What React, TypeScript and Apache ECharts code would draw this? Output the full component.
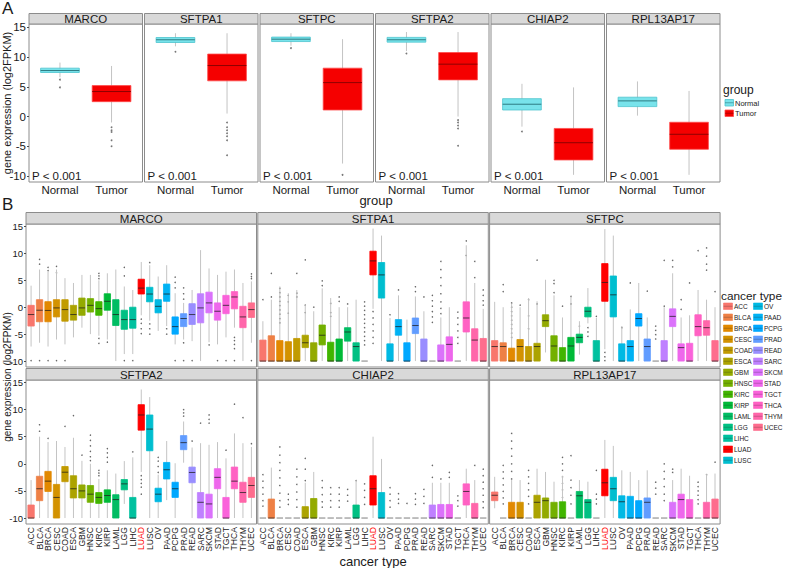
import React, { useEffect, useRef } from "react";
import * as echarts from "echarts";

const FONT = "Liberation Sans, Arial, Helvetica, sans-serif";

const GENES = ["MARCO", "SFTPA1", "SFTPC", "SFTPA2", "CHIAP2", "RPL13AP17"];
const GROUPS = ["Normal", "Tumor"];
const Y_TICKS = [-10, -5, 0, 5, 10, 15];
const CATS = ["ACC", "BLCA", "BRCA", "CESC", "COAD", "ESCA", "GBM", "HNSC", "KIRC", "KIRP", "LAML", "LGG", "LIHC", "LUAD", "LUSC", "OV", "PAAD", "PCPG", "PRAD", "READ", "SARC", "SKCM", "STAD", "TGCT", "THCA", "THYM", "UCEC"];

// Panel A: [lowWhisker, Q1, median, Q3, highWhisker] per gene
const A_NORMAL = [
  [6.6, 7.4, 7.73, 8.13, 9.07],
  [11.8, 12.44, 12.9, 13.28, 14.0],
  [11.9, 12.6, 13.0, 13.35, 14.0],
  [11.0, 12.5, 12.9, 13.3, 14.2],
  [-1.7, 1.1, 2.07, 3.0, 5.5],
  [0.15, 1.67, 2.63, 3.25, 5.9],
];
const A_TUMOR = [
  [-1.0, 2.5, 4.2, 5.2, 8.5],
  [0.5, 6.0, 8.57, 10.5, 14.0],
  [-7.9, 1.1, 5.7, 8.13, 13.0],
  [0.0, 6.16, 8.8, 10.76, 14.2],
  [-9.8, -7.3, -4.4, -2.0, 4.9],
  [-9.8, -5.5, -2.98, -0.96, 4.3],
];
const A_NORMAL_OUT = [[6.2, 4.9], [10.9], [11.5], [10.6], [-2.5], []];
const A_TUMOR_OUT = [[-1.8, -2.3, -2.6, -4.0, -5.0], [-1.0, -1.8, -2.3, -2.8, -3.3, -4.0, -6.5], [-9.8], [-0.6, -1.0, -1.5, -2.0, -4.9], [], []];

// Panel B: [low, Q1, median, Q3, high] per cancer type
const B_MARCO = [
  [-7.3, -3.5, -1.36, 0.35, 4.0], [-6.6, -2.7, -0.56, 1.4, 7.0], [-7.3, -2.7, -0.6, 1.03, 6.6], [-6.0, -1.8, -0.13, 1.4, 7.0],
  [-6.9, -2.6, -0.44, 1.4, 5.4], [-5.6, -2.4, -1.36, 0.35, 4.5], [-3.8, -1.5, -0.13, 1.7, 6.0], [-5.0, -0.9, 0.35, 1.6, 6.0],
  [-5.3, -1.5, -0.26, 1.03, 5.0], [-6.0, -0.56, 1.1, 2.5, 6.3], [-10, -3.4, -1.36, 1.4, 7.0], [-8.7, -4.1, -2.3, -0.56, 3.85],
  [-8.7, -3.9, -2.3, 0.0, 3.2], [-1.5, 2.45, 3.55, 5.2, 8.4], [-2.5, 1.0, 2.45, 3.7, 7.8], [-4.4, -1.05, 0.17, 1.4, 5.7],
  [-3.5, 1.1, 2.45, 4.3, 7.8], [-6.9, -5.0, -3.6, -1.8, 2.6], [-6.0, -3.6, -2.1, -1.2, 0.8], [-6.3, -3.2, -1.36, 0.66, 3.2],
  [-10, -2.9, -0.13, 2.5, 10.6], [-6.5, -1.05, 0.8, 2.8, 7.2], [-6.9, -2.4, -0.75, 0.8, 6.0], [-5.6, -1.2, 0.35, 2.2, 6.6],
  [-3.8, -0.3, 1.9, 2.9, 7.0], [-10, -3.8, -1.8, 0.17, 4.5], [-6.6, -1.9, -0.44, 0.8, 4.8],
];
const B_SFTPA1 = [
  [-10, -10, -10, -6.1, -2.6], [-10, -10, -10, -5.3, 1.4], [-10, -10, -10, -6.2, 3.85], [-10, -10, -10, -6.4, 2.6],
  [-10, -10, -10, -5.8, 3.2], [-10, -7.5, -6.6, -5.2, 0.5], [-10, -10, -10, -6.6, -0.75], [-10, -7.0, -5.2, -3.3, 3.5],
  [-10, -10, -10, -6.5, 1.7], [-10, -10, -10, -5.9, 0.0], [-10, -6.3, -4.6, -3.8, 0.0], [-10, -10, -7.3, -6.6, 1.4],
  [-10, -10, -10, -10, -10], [-0.3, 6.0, 8.6, 10.4, 14.6], [-10, 1.7, 6.0, 8.3, 13.3], [-10, -10, -10, -6.8, -2.0],
  [-10, -5.2, -3.6, -2.3, 2.2], [-10, -10, -10, -6.6, -2.3], [-10, -4.9, -3.4, -2.0, 2.0], [-10, -10, -10, -5.9, -0.75],
  [-10, -10, -10, -10, -10], [-10, -10, -10, -7.0, -1.9], [-10, -10, -6.9, -5.5, 0], [-10, -10, -10, -10, -10],
  [-10, -4.6, -2.0, 1.0, 11.5], [-10, -10, -6.1, -4.0, 4.5], [-10, -10, -10, -5.8, -0.3],
];
const B_SFTPC = [
  [-10, -10, -7.3, -6.2, 1.0], [-10, -10, -7.3, -6.6, 0], [-10, -10, -10, -7.6, 0.6], [-10, -10, -7.3, -6.0, 0],
  [-10, -10, -10, -7.3, 1.7], [-10, -10, -7.3, -6.7, 1.1], [-8.4, -3.6, -2.5, -1.4, 5.1], [-10, -10, -7.2, -5.3, 2.2],
  [-10, -10, -10, -7.5, -1.9], [-10, -10, -7.2, -5.6, 2.0], [-8.8, -6.6, -5.6, -5.0, -2.6], [-3.0, -1.8, -0.75, 0.0, 3.55],
  [-10, -10, -10, -6.2, -2.0], [-7.8, 1.1, 4.6, 8.1, 14.5], [-10, -1.8, 2.3, 5.8, 13.3], [-10, -10, -10, -6.8, -3.5],
  [-10, -10, -7.3, -6.2, -0.4], [-10, -3.5, -2.1, -1.2, 4.5], [-10, -10, -7.3, -5.9, -1.9], [-10, -10, -10, -10, -10],
  [-10, -10, -10, -6.2, 0], [-10, -3.6, -1.7, -0.3, 6.3], [-10, -10, -7.5, -6.8, -1.9], [-10, -10, -10, -6.7, -1.5],
  [-10, -5.3, -3.6, -1.4, 3.2], [-10, -5.2, -3.8, -2.5, 1.4], [-10, -10, -10, -6.2, 0],
];
const B_SFTPA2 = [
  [-10, -10, -10, -7.6, -3.0], [-10, -6.8, -4.6, -2.3, 5.0], [-10, -5.1, -3.2, -1.4, 4.0], [-10, -10, -6.2, -3.8, 4.2],
  [-10, -3.3, -1.55, -0.5, 3.1], [-10, -6.3, -4.6, -2.2, 4.8], [-10, -6.3, -5.0, -3.9, 0.55], [-10, -7.1, -5.6, -4.0, 0.0],
  [-10, -7.3, -6.2, -5.3, -2.8], [-10, -7.1, -5.85, -4.8, -1.2], [-10, -10, -6.6, -5.7, -1.8], [-7.4, -4.8, -3.7, -2.9, 0.5],
  [-10, -10, -10, -6.2, 1.2], [-1.5, 6.2, 9.0, 10.9, 13.7], [-10, 2.4, 6.4, 9.0, 12.3], [-10, -7.0, -5.6, -4.5, -2.0],
  [-6.7, -2.8, -1.1, 0.25, 4.2], [-10, -6.2, -4.6, -3.4, 0.1], [0.2, 2.6, 3.9, 5.2, 7.8], [-10, -3.5, -1.6, -0.6, 3.0],
  [-10, -10, -7.1, -5.3, 3.8], [-10, -10, -7.4, -5.6, 3.5], [-10, -4.6, -2.5, -0.9, 4.0], [-10, -10, -10, -6.2, 1.0],
  [-10, -4.6, -3.2, -0.6, 5.6], [-10, -7.1, -5.3, -3.4, 3.8], [-10, -6.2, -4.0, -2.5, 3.1],
];
const B_CHIAP2 = [
  [-10, -10, -10, -10, -10], [-10, -10, -10, -6.5, -0.7], [-10, -10, -10, -10, -10], [-10, -10, -10, -10, -10],
  [-10, -10, -10, -10, -10], [-10, -10, -10, -7.9, -3.5], [-10, -10, -10, -6.4, -1.5], [-10, -10, -10, -10, -10],
  [-10, -10, -10, -10, -10], [-10, -10, -10, -10, -10], [-10, -10, -10, -10, -10], [-10, -10, -10, -7.6, -3.0],
  [-10, -10, -10, -10, -10], [-10, -7.6, -4.6, -2.2, 5.0], [-10, -10, -10, -5.3, 0.9], [-10, -10, -10, -10, -10],
  [-10, -10, -10, -10, -10], [-10, -10, -10, -10, -10], [-10, -10, -10, -10, -10], [-10, -10, -10, -10, -10],
  [-10, -10, -10, -7.6, -3.5], [-10, -10, -10, -7.5, -3.5], [-10, -10, -10, -7.5, -3.5], [-10, -10, -10, -10, -10],
  [-10, -7.6, -5.1, -3.7, -0.9], [-10, -10, -10, -7.3, -3.0], [-10, -10, -10, -10, -10],
];
const B_RPL13AP17 = [
  [-8.2, -6.8, -5.8, -5.2, -2.4], [-10, -10, -10, -10, -10], [-10, -10, -10, -7.1, -3.0], [-10, -10, -10, -7.1, -3.0],
  [-10, -10, -10, -10, -10], [-10, -10, -7.1, -5.8, -0.9], [-10, -10, -6.8, -6.3, -1.5], [-10, -10, -10, -7.1, -3.3],
  [-10, -10, -10, -7.0, -2.2], [-10, -10, -10, -10, -10], [-10, -10, -5.9, -5.1, -3.0], [-10, -10, -7.1, -6.6, -3.3],
  [-10, -10, -10, -10, -10], [-10, -5.9, -3.5, -1.0, 4.4], [-10, -6.8, -4.6, -2.5, 3.3], [-10, -10, -7.0, -5.9, -1.2],
  [-10, -10, -10, -6.0, -1.5], [-10, -10, -10, -6.8, -3.0], [-10, -10, -7.1, -6.3, -1.2], [-10, -10, -10, -10, -10],
  [-10, -10, -10, -10, -10], [-10, -10, -10, -7.1, -3.0], [-10, -10, -6.6, -5.6, -0.9], [-10, -10, -10, -6.6, -2.2],
  [-10, -10, -10, -10, -10], [-10, -10, -10, -7.1, -1.9], [-10, -10, -10, -6.5, -1.8],
];
const B_DATA = [B_MARCO, B_SFTPA1, B_SFTPC, B_SFTPA2, B_CHIAP2, B_RPL13AP17];

// Panel B outliers: [cancer type number (1-based), value]
const B_OUT_MARCO = [
  [1, -9.9], [2, -9.9], [3, -9.9], [4, -9.9], [5, -9.9], [12, -9.9], [13, -9.9], [18, -9.9], [19, -9.9], [20, -9.9], [23, -9.9], [24, -9.9], [25, -9.9], [27, -9.9],
  [2, 8.9], [2, 8.0], [3, 7.4], [3, 6.8], [4, 7.6], [4, 6.4], [9, 6.3], [9, 5.8], [9, 5.3], [9, -5.8], [9, -6.7], [10, -6.5],
  [12, 7.4], [12, 5.8], [14, -2.2], [14, -3.0], [14, -4.0], [14, -4.9], [15, 8.3], [15, -3.1], [15, -4.0], [15, -5.0],
  [17, -4.0], [17, -5.0], [18, 5.6], [18, 4.6], [18, 3.6], [19, 3.6], [19, 2.5], [19, 1.5], [19, -6.6], [22, -7.0],
  [25, -5.6], [25, -6.2], [25, -6.9], [25, -7.7], [27, 6.2], [27, 5.7], [27, 5.3],
];
const B_OUT_SFTPA1 = [
  [1, 1.4], [2, 6.3], [2, 1.9], [3, 3.5], [3, 2.7], [3, 1.9], [3, 1.1], [3, 0.3], [3, -0.5], [3, -1.3], [3, -2.1], [3, -2.9],
  [4, 2.2], [4, 1.0], [4, -1.1], [5, 6.3], [5, 2.6], [5, 1.9], [6, 8.8], [6, 0.4], [6, -1.0], [7, 0.0], [8, 4.9], [8, 4.0],
  [9, 0.7], [9, -1.0], [9, -1.7], [10, 1.9], [10, 1.1], [11, 0.6],
  [13, 1.0], [13, 0.2], [13, -0.6], [13, -1.4], [13, -2.2], [13, -3.0], [13, -3.8], [13, -4.6], [13, -5.4], [13, -6.2], [13, -7.0],
  [14, -0.8], [14, -2.0], [14, -3.2], [14, -4.4], [14, -5.6], [14, -6.7], [16, -1.4], [17, 3.2], [19, 3.8], [19, 2.9], [20, 1.9],
  [21, 2.2], [21, 1.2], [21, 0.2], [21, -0.8], [21, -1.8], [21, -2.8],
  [22, 8.5], [22, 7.0], [22, 5.5], [22, 4.0], [22, 2.5], [22, 1.0], [22, -0.2], [22, -1.2],
  [24, -0.9], [24, -2.0], [24, -3.2], [24, -4.4], [24, -5.6], [24, -6.7],
  [25, 12.3], [25, 9.6], [26, 8.5], [26, 5.5], [27, 3.2], [27, 2.2], [27, 1.2], [27, 0.4],
];
const B_OUT_SFTPC = [
  [2, 4.2], [2, 2.9], [3, 0.8], [3, 0.0], [3, -0.8], [3, -1.6], [3, -2.4], [3, -3.2], [3, -4.0], [3, -4.8], [3, -5.6],
  [4, 0.4], [5, 1.4], [5, -1.6], [5, -4.0], [6, 8.75], [6, 0.6], [8, 5.0], [8, 4.4], [8, 2.7], [9, 0.2], [10, 2.0], [10, 0.6],
  [11, -3.5], [12, -3.8], [12, -4.6], [12, -5.4], [13, -1.7], [14, -8.4], [14, -9.2], [14, -9.9], [16, -3.8], [17, 4.5], [19, 3.0],
  [20, -3.5], [20, -4.3], [20, -5.1], [20, -5.9], [21, 0.2], [21, 8.7], [22, 8.7], [22, 7.5], [23, 1.4], [23, -0.4], [24, 4.5],
  [25, 10.5], [26, 11.0], [26, 9.5], [26, 8.0], [26, 6.9], [27, 2.9],
];
const B_OUT_SFTPA2 = [
  [2, 7.2], [2, 6.0], [3, 4.7], [5, 6.9], [6, 8.9], [7, 1.6], [8, 5.3], [8, 4.3], [8, 3.3], [8, 2.3], [8, 1.3], [8, 0.6],
  [9, -1.2], [9, -1.7], [9, -2.2], [10, 2.8], [10, 2.0], [10, 1.2], [10, 0.3], [13, 2.2], [14, -2.2], [14, -2.9], [14, -3.6],
  [14, -4.3], [14, -5.6], [16, 1.2], [16, 0.5], [16, -0.5], [16, -1.6], [19, 10.0], [19, 9.4], [19, 8.8], [20, 4.2], [21, 7.5],
  [22, 9.0], [22, 8.2], [22, 7.5], [24, 2.5], [25, 11.0], [26, 8.5], [27, 3.7],
];
const B_OUT_CHIAP2 = [
  [1, -2.0], [1, -3.2], [1, -4.4], [1, -5.6], [1, -6.8], [1, -7.8],
  [3, 3.1], [3, 1.6], [3, 0.2], [3, -1.2], [3, -2.6], [3, -4.0], [3, -5.4], [3, -6.8], [3, -8.0],
  [4, -5.6], [4, -6.6], [4, -7.5], [5, -1.0], [5, -2.4], [5, -3.8], [5, -5.2], [5, -6.6], [5, -8.0], [6, 1.0], [6, -1.0], [6, -3.1],
  [8, -3.1], [8, -4.4], [8, -5.7], [8, -7.0], [8, -8.0], [9, -4.4], [9, -5.6], [9, -6.8], [9, -8.0],
  [10, -4.4], [10, -5.6], [10, -6.8], [10, -8.0], [11, -4.7], [11, -5.8], [11, -6.9], [12, -3.1],
  [13, -3.7], [13, -4.9], [13, -6.2], [13, -7.5], [16, -4.4], [16, -5.6], [16, -6.8], [16, -8.0],
  [17, -5.5], [17, -6.5], [17, -7.3], [18, -7.3], [19, -5.5], [19, -6.5], [19, -7.5], [20, -4.7], [20, -6.0], [20, -7.3],
  [21, -0.3], [21, -2.5], [22, -2.8], [23, -1.6], [23, -2.5], [24, -5.9], [24, -6.8], [24, -7.8], [26, -0.3],
  [27, -1.0], [27, -2.2], [27, -3.4], [27, -4.6], [27, -5.8], [27, -7.0], [27, -8.1],
];
const B_OUT_RPL13AP17 = [
  [2, -0.3], [2, -1.5], [2, -2.7], [2, -3.9], [2, -5.1], [2, -6.3], [2, -7.4],
  [3, 5.6], [3, 4.2], [3, 2.8], [3, 1.4], [3, 0.0], [3, -1.4], [3, -2.8],
  [5, -1.2], [5, -2.4], [5, -3.6], [5, -4.8], [5, -6.0], [5, -7.4],
  [9, 1.2], [9, 0.0], [9, -1.2], [9, -2.4], [9, -3.6], [9, -4.8], [9, -6.2],
  [10, 1.5], [10, -3.0], [10, -4.4], [10, -5.8], [10, -7.4], [13, -1.2], [13, -5.6], [13, -6.5], [13, -7.4],
  [20, -3.4], [20, -4.5], [20, -5.6], [21, 0.0], [21, -1.4], [21, -2.8], [21, -4.2], [21, -5.6], [21, -6.8],
  [22, -1.0], [22, -1.6], [25, -3.4], [25, -4.2], [25, -5.0], [25, -5.8], [25, -6.6], [25, -7.4], [26, -2.0], [27, 0.3],
];
const B_OUT = [B_OUT_MARCO, B_OUT_SFTPA1, B_OUT_SFTPC, B_OUT_SFTPA2, B_OUT_CHIAP2, B_OUT_RPL13AP17];

function hcl(h: number, c: number, l: number): string {
  const hr = (h * Math.PI) / 180;
  const U = c * Math.cos(hr);
  const V = c * Math.sin(hr);
  const Y = l > 8 ? 100 * Math.pow((l + 16) / 116, 3) : (100 * l) / 903.3;
  const un = 0.1978398, vn = 0.4683363;
  const u = U / (13 * l) + un;
  const v = V / (13 * l) + vn;
  const X = (9 * Y * u) / (4 * v);
  const Z = -X / 3 - 5 * Y + (3 * Y) / v;
  const lin = [
    (3.240479 * X - 1.53715 * Y - 0.498535 * Z) / 100,
    (-0.969256 * X + 1.875992 * Y + 0.041556 * Z) / 100,
    (0.055648 * X - 0.204043 * Y + 1.057311 * Z) / 100,
  ];
  const hex = lin.map((t) => {
    const g = t <= 0.0031308 ? 12.92 * t : 1.055 * Math.pow(t, 1 / 2.4) - 0.055;
    const n = Math.round(Math.max(0, Math.min(1, g)) * 255);
    return n.toString(16).padStart(2, "0");
  });
  return "#" + hex.join("");
}

const CAT_COLORS = CATS.map((c, i) => (c === "LUAD" ? "#FF0000" : hcl(15 + (360 * i) / CATS.length, 100, 65)));
const GROUP_FILL = ["#78E3EB", "#F50000"];
const GROUP_STROKE = ["#4DC4CE", "#FF4A4A"];
const GROUP_MED = ["#2E7C83", "#8E0000"];

function makeBoxRender(fills: string[], strokes: string[], meds: string[], widthUnits: number) {
  return (params: any, api: any) => {
    const i = params.dataIndex;
    const x = api.value(0);
    const q1v = api.value(2);
    const q3v = api.value(4);
    const pLo = api.coord([x, api.value(1)]);
    const pQ1 = api.coord([x, q1v]);
    const pMd = api.coord([x, api.value(3)]);
    const pQ3 = api.coord([x, q3v]);
    const pHi = api.coord([x, api.value(5)]);
    const w = api.size([widthUnits, 0])[0];
    const cx = pMd[0];
    const children: any[] = [];
    if (pLo[1] - pHi[1] > 0.5) {
      children.push({ type: "line", shape: { x1: cx, y1: pLo[1], x2: cx, y2: pHi[1] }, style: { stroke: "#C4C4C4", lineWidth: 1 } });
    }
    if (q3v - q1v < 0.05) {
      children.push({ type: "line", shape: { x1: cx - w / 2, y1: pMd[1], x2: cx + w / 2, y2: pMd[1] }, style: { stroke: "#A3A3A3", lineWidth: 1.4 } });
    } else {
      children.push({ type: "rect", shape: { x: cx - w / 2, y: pQ3[1], width: w, height: pQ1[1] - pQ3[1] }, style: { fill: fills[i], stroke: strokes[i], lineWidth: 0.8 } });
      children.push({ type: "line", shape: { x1: cx - w / 2, y1: pMd[1], x2: cx + w / 2, y2: pMd[1] }, style: { stroke: meds[i], lineWidth: 1 } });
    }
    return { type: "group", children };
  };
}

function buildOption() {
  const grid: any[] = [];
  const xAxis: any[] = [];
  const yAxis: any[] = [];
  const series: any[] = [];
  const graphic: any[] = [];
  const textCol = "#1a1a1a";
  const tickCol = "#4d4d4d";
  const borderCol = "#8c8c8c";

  graphic.push({ type: "text", x: 2, y: 0, style: { text: "A", font: `17px ${FONT}`, fill: textCol } });
  graphic.push({ type: "text", x: 2, y: 196, style: { text: "B", font: `17px ${FONT}`, fill: textCol } });

  // ---- Panel A ----
  const aW = 113.5;
  GENES.forEach((gene, i) => {
    const left = 29 + i * 115.5;
    const gi = grid.length;
    grid.push({ left, top: 24, width: aW, height: 158, show: true, borderColor: borderCol, borderWidth: 1, backgroundColor: "#fff" });
    xAxis.push({
      gridIndex: gi, type: "value", min: 0.4, max: 2.6,
      axisLine: { show: false }, axisTick: { show: false }, splitLine: { show: false },
      axisLabel: { customValues: [1, 2], showMinLabel: true, showMaxLabel: true, formatter: (v: number) => GROUPS[Math.round(v) - 1], fontSize: 11.5, fontFamily: FONT, color: textCol, margin: 2 },
    });
    yAxis.push({
      gridIndex: gi, type: "value", min: -11, max: 15.55,
      axisLine: { show: false }, splitLine: { show: false },
      axisTick: { show: i === 0, customValues: Y_TICKS, length: 2, lineStyle: { color: tickCol } },
      axisLabel: { show: i === 0, customValues: Y_TICKS, showMinLabel: true, showMaxLabel: true, fontSize: 11.5, fontFamily: FONT, color: textCol, margin: 3 },
    });
    series.push({
      type: "custom", xAxisIndex: gi, yAxisIndex: gi,
      renderItem: makeBoxRender(GROUP_FILL, GROUP_STROKE, GROUP_MED, 0.75),
      data: [[1, ...A_NORMAL[i]], [2, ...A_TUMOR[i]]],
      z: 2,
    });
    const outs: number[][] = [];
    A_NORMAL_OUT[i].forEach((v) => outs.push([1, v]));
    A_TUMOR_OUT[i].forEach((v) => outs.push([2, v]));
    series.push({ type: "scatter", xAxisIndex: gi, yAxisIndex: gi, data: outs, symbolSize: 1.8, itemStyle: { color: "#555" }, z: 3 });
    graphic.push({ type: "rect", shape: { x: left, y: 13.5, width: aW, height: 10.5 }, style: { fill: "#D9D9D9", stroke: borderCol, lineWidth: 1 } });
    graphic.push({ type: "text", x: left + aW / 2, y: 19, style: { text: gene, font: `11.5px ${FONT}`, fill: textCol, textAlign: "center", textVerticalAlign: "middle" } });
    graphic.push({ type: "text", x: left + 3, y: 176, style: { text: "P < 0.001", font: `11.5px ${FONT}`, fill: textCol, textAlign: "left", textVerticalAlign: "middle" } });
  });

  graphic.push({ type: "text", x: 7, y: 103, rotation: Math.PI / 2, style: { text: "gene expression (log2FPKM)", font: `11px ${FONT}`, fill: textCol, textAlign: "center", textVerticalAlign: "middle" } });
  graphic.push({ type: "text", x: 376, y: 200, style: { text: "group", font: `13px ${FONT}`, fill: textCol, textAlign: "center", textVerticalAlign: "middle" } });

  // legend A
  graphic.push({ type: "text", x: 723, y: 90, style: { text: "group", font: `12px ${FONT}`, fill: textCol, textAlign: "left", textVerticalAlign: "middle" } });
  GROUPS.forEach((g, k) => {
    const y = 99.5 + k * 10.5;
    graphic.push({ type: "rect", shape: { x: 725, y, width: 8.5, height: 6.5 }, style: { fill: GROUP_FILL[k], stroke: GROUP_STROKE[k], lineWidth: 0.8 } });
    graphic.push({ type: "line", shape: { x1: 725, y1: y + 3.25, x2: 733.5, y2: y + 3.25 }, style: { stroke: GROUP_MED[k], lineWidth: 0.6 } });
    graphic.push({ type: "text", x: 735, y: y + 3.5, style: { text: g, font: `7.5px ${FONT}`, fill: textCol, textAlign: "left", textVerticalAlign: "middle" } });
  });

  // ---- Panel B ----
  const bW = 230.5;
  const rowTop = [224, 380];
  const rowH = [143, 144];
  const unit = bW / (CATS.length + 0.2);
  GENES.forEach((gene, i) => {
    const row = Math.floor(i / 3);
    const col = i % 3;
    const left = 26 + col * 231.8;
    const top = rowTop[row];
    const gi = grid.length;
    grid.push({ left, top, width: bW, height: rowH[row], show: true, borderColor: borderCol, borderWidth: 1, backgroundColor: "#fff" });
    xAxis.push({
      gridIndex: gi, type: "value", min: 0.4, max: CATS.length + 0.6,
      axisLine: { show: false }, axisTick: { show: false }, splitLine: { show: false }, axisLabel: { show: false },
    });
    yAxis.push({
      gridIndex: gi, type: "value", min: -11.1, max: 15.45,
      axisLine: { show: false }, splitLine: { show: false },
      axisTick: { show: col === 0, customValues: Y_TICKS, length: 2, lineStyle: { color: tickCol } },
      axisLabel: { show: col === 0, customValues: Y_TICKS, showMinLabel: true, showMaxLabel: true, fontSize: 9.5, fontFamily: FONT, color: textCol, margin: 3 },
    });
    const meds = CATS.map(() => "rgba(30,30,30,0.75)");
    series.push({
      type: "custom", xAxisIndex: gi, yAxisIndex: gi,
      renderItem: makeBoxRender(CAT_COLORS, CAT_COLORS, meds, 0.75),
      data: B_DATA[i].map((d, k) => [k + 1, ...d]),
      z: 2,
    });
    series.push({ type: "scatter", xAxisIndex: gi, yAxisIndex: gi, data: B_OUT[i], symbolSize: 1.5, itemStyle: { color: "#444" }, z: 1 });
    graphic.push({ type: "rect", shape: { x: left, y: top - 11.5, width: bW, height: 11.5 }, style: { fill: "#D9D9D9", stroke: borderCol, lineWidth: 1 } });
    graphic.push({ type: "text", x: left + bW / 2, y: top - 5.5, style: { text: gene, font: `11.5px ${FONT}`, fill: textCol, textAlign: "center", textVerticalAlign: "middle" } });

    if (row === 1) {
      // label-only category axis whose bands line up with the value positions 1..27
      const li = grid.length;
      grid.push({ left: left + 0.1 * unit, top, width: CATS.length * unit, height: rowH[row], show: false });
      xAxis.push({
        gridIndex: li, type: "category", data: CATS, boundaryGap: true,
        axisLine: { show: false }, axisTick: { show: false }, splitLine: { show: false },
        axisLabel: {
          interval: 0, rotate: 90, margin: 3, fontSize: 8.6, fontFamily: FONT, color: textCol,
          formatter: (name: string) => (name === "LUAD" ? `{r|${name}}` : name),
          rich: { r: { color: "#FF0000", fontSize: 8.6, fontFamily: FONT } },
        },
      });
      yAxis.push({ gridIndex: li, type: "value", show: false, min: 0, max: 1 });
    }
  });

  graphic.push({ type: "text", x: 7, y: 377, rotation: Math.PI / 2, style: { text: "gene expression (log2FPKM)", font: `10px ${FONT}`, fill: textCol, textAlign: "center", textVerticalAlign: "middle" } });
  graphic.push({ type: "text", x: 373, y: 561, style: { text: "cancer type", font: `13px ${FONT}`, fill: textCol, textAlign: "center", textVerticalAlign: "middle" } });

  // legend B
  graphic.push({ type: "text", x: 721, y: 296, style: { text: "cancer type", font: `11.8px ${FONT}`, fill: textCol, textAlign: "left", textVerticalAlign: "middle" } });
  CATS.forEach((c, k) => {
    const colI = k < 15 ? 0 : 1;
    const rowI = k < 15 ? k : k - 15;
    const kx = colI === 0 ? 723.5 : 753.5;
    const ky = 303 + rowI * 11;
    graphic.push({ type: "rect", shape: { x: kx, y: ky, width: 9, height: 6.5 }, style: { fill: CAT_COLORS[k], stroke: CAT_COLORS[k], lineWidth: 0.6 } });
    graphic.push({ type: "line", shape: { x1: kx, y1: ky + 3.25, x2: kx + 9, y2: ky + 3.25 }, style: { stroke: "rgba(30,30,30,0.5)", lineWidth: 0.5 } });
    graphic.push({ type: "text", x: kx + 10.5, y: ky + 3.5, style: { text: c, font: `6.5px ${FONT}`, fill: textCol, textAlign: "left", textVerticalAlign: "middle" } });
  });

  return { animation: false, backgroundColor: "#fff", grid, xAxis, yAxis, series, graphic };
}

export default function App() {
  const ref = useRef<HTMLDivElement>(null);
  useEffect(() => {
    if (!ref.current) return;
    const chart = echarts.init(ref.current, null, { renderer: "svg" });
    chart.setOption(buildOption() as any);
    return () => chart.dispose();
  }, []);
  return <div ref={ref} style={{ position: "fixed", left: 0, top: 0, width: 785, height: 568, background: "#fff" }} />;
}
